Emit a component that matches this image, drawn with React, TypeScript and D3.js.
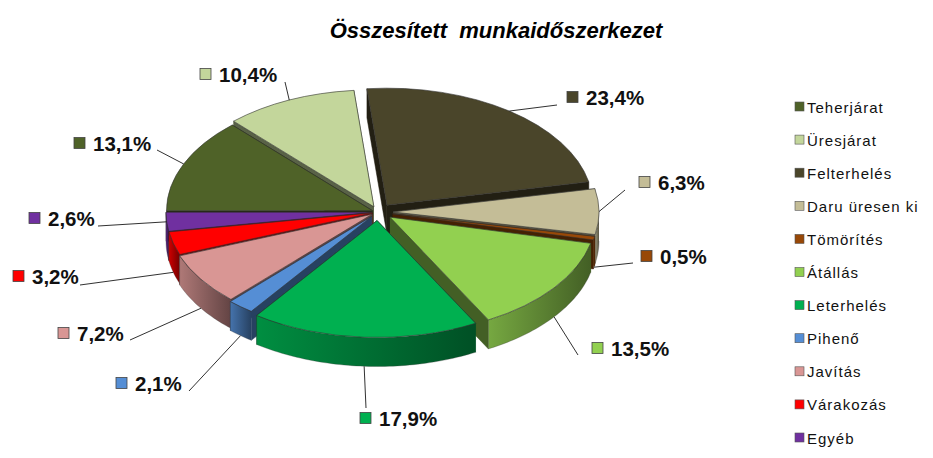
import { useEffect, useRef } from 'react';
import * as d3 from 'd3';

const width = 933;
const height = 458;

const categories = ['Teherjárat', 'Üresjárat', 'Felterhelés', 'Daru üresen ki', 'Tömörítés', 'Átállás', 'Leterhelés', 'Pihenő', 'Javítás', 'Várakozás', 'Egyéb'];
const shares = [13.1, 10.4, 23.4, 6.3, 0.5, 13.5, 17.9, 2.1, 7.2, 3.2, 2.6];
const colors = ['#4f6228', '#c3d69b', '#4a452a', '#c4bd97', '#984807', '#92d050', '#00b050', '#558ed5', '#d99694', '#ff0000', '#7030a0'];
const percentLabels = ['13,1%', '10,4%', '23,4%', '6,3%', '0,5%', '13,5%', '17,9%', '2,1%', '7,2%', '3,2%', '2,6%'];

// how far each slice is pulled out of the pie
const explode = [6, 10, 15, 15, 15, 15, 15, 10, 7, 6, 6];

// label text start / baseline, and the elbow of the leader line
const labelX = [93, 219, 586, 658, 660, 611, 379, 135, 77, 32, 48];
const labelY = [151, 82, 105, 190, 264, 356, 426, 391, 341, 284, 226];
const elbowX = [157, 285, 557, 625, 633, 578, 366, 189, 130, 80, 98];
const elbowY = [150, 82, 105, 190, 263, 355, 408, 391, 340, 285, 226];

const cx = 378;
const cy = 212;
const rx = 206;
const ry = 117;
const depth = 29;

const App = () => {
  const svgRef = useRef<SVGSVGElement>(null);

  useEffect(() => {
    const svg = d3.select(svgRef.current);
    svg.selectAll('*').remove();

    const slices = d3
      .pie<number>()
      .sort(null)
      .startAngle(-Math.PI / 2)
      .endAngle((3 * Math.PI) / 2)(shares);

    const arc = d3.arc<d3.PieArcDatum<number>>().innerRadius(0).outerRadius(rx);
    const line = d3.line();
    const defs = svg.append('defs');

    const centerOf = (i: number) => {
      const mid = (slices[i].startAngle + slices[i].endAngle) / 2;
      return [cx + Math.sin(mid) * explode[i], cy - (Math.cos(mid) * explode[i] * ry) / rx];
    };
    const rim = (i: number, a: number): [number, number] => {
      const [x, y] = centerOf(i);
      return [x + Math.sin(a) * rx, y - Math.cos(a) * ry];
    };

    // back slices first, so the nearer ones paint over them
    const drawOrder = d3.range(slices.length).sort(
      (a, b) =>
        Math.cos((slices[b].startAngle + slices[b].endAngle) / 2) -
        Math.cos((slices[a].startAngle + slices[a].endAngle) / 2)
    );

    drawOrder.forEach((i) => {
      const s = slices[i];
      const [x, y] = centerOf(i);
      const g = svg.append('g');
      const sideColor = d3.color(colors[i])!.darker(2.2).formatHex();

      // radial walls
      [s.startAngle, s.endAngle].forEach((a) => {
        const [ex, ey] = rim(i, a);
        g.append('path')
          .attr('d', line([[x, y], [ex, ey], [ex, ey + depth], [x, y + depth]]))
          .attr('fill', sideColor)
          .attr('stroke', sideColor)
          .attr('stroke-width', 0.5);
      });

      // outer wall, only the part that faces the viewer
      const from = Math.max(s.startAngle, Math.PI / 2);
      const to = Math.min(s.endAngle, (3 * Math.PI) / 2);
      const back = Math.cos((s.startAngle + s.endAngle) / 2) > -0.15 && s.endAngle < Math.PI / 2;
      if (to > from && !back) {
        const steps = d3.range(from, to, 0.02).concat(to);
        const topEdge = steps.map((a) => rim(i, a));
        const bottomEdge = topEdge.map(([px, py]): [number, number] => [px, py + depth]).reverse();
        const id = `wall-${i}`;
        const grad = defs.append('linearGradient').attr('id', id);
        const base = d3.color(colors[i])!;
        grad.append('stop').attr('offset', '0%').attr('stop-color', base.darker(0.6).formatHex());
        grad.append('stop').attr('offset', '100%').attr('stop-color', base.darker(2.2).formatHex());
        g.append('path')
          .attr('d', line([...topEdge, ...bottomEdge]))
          .attr('fill', `url(#${id})`)
          .attr('stroke', '#3a3a3a')
          .attr('stroke-width', 0.3);
      }

      // top face: a circular arc squashed into the ellipse
      g.append('path')
        .attr('d', arc(s))
        .attr('transform', `translate(${x},${y}) scale(1,${ry / rx})`)
        .attr('fill', colors[i])
        .attr('stroke', '#333')
        .attr('stroke-width', 0.6)
        .attr('vector-effect', 'non-scaling-stroke');
    });

    // labels and their leader lines
    slices.forEach((s, i) => {
      const mid = (s.startAngle + s.endAngle) / 2;
      const [ax, ay] = rim(i, mid);
      const anchorY = Math.cos(mid) < -0.15 ? ay + depth : ay;
      svg.append('path')
        .attr('d', line([[labelX[i] + percentLabels[i].length * 0 - 0, labelY[i]].length ? [elbowX[i], elbowY[i]] : [0, 0], [ax, anchorY]]))
        .attr('fill', 'none')
        .attr('stroke', '#1a1a1a')
        .attr('stroke-width', 0.9);
      svg.append('rect')
        .attr('x', labelX[i] - 19)
        .attr('y', labelY[i] - 13.5)
        .attr('width', 11)
        .attr('height', 11)
        .attr('fill', colors[i])
        .attr('stroke', '#444')
        .attr('stroke-width', 0.8);
      svg.append('text')
        .attr('x', labelX[i])
        .attr('y', labelY[i])
        .attr('font-family', '"Liberation Sans"')
        .attr('font-weight', 'bold')
        .attr('font-size', 20.5)
        .attr('fill', '#111')
        .text(percentLabels[i]);
    });

    // legend
    const legendY = d3.scalePoint<string>().domain(categories).range([107, 438]);
    categories.forEach((c, i) => {
      const y = legendY(c)!;
      svg.append('rect')
        .attr('x', 795)
        .attr('y', y - 5)
        .attr('width', 9)
        .attr('height', 9)
        .attr('fill', colors[i])
        .attr('stroke', '#555')
        .attr('stroke-width', 0.6);
      svg.append('text')
        .attr('x', 807)
        .attr('y', y + 5.5)
        .attr('font-family', '"Liberation Sans"')
        .attr('font-size', 15)
        .attr('letter-spacing', 1)
        .attr('fill', '#111')
        .text(c);
    });

    // title
    svg.append('text')
      .attr('x', 496)
      .attr('y', 38)
      .attr('text-anchor', 'middle')
      .attr('font-family', '"Liberation Sans"')
      .attr('font-weight', 'bold')
      .attr('font-style', 'italic')
      .attr('font-size', 22)
      .attr('fill', '#000')
      .style('white-space', 'pre')
      .text('Összesített  munkaidőszerkezet');
  }, []);

  return (
    <svg
      ref={svgRef}
      width={width}
      height={height}
      style={{ position: 'fixed', left: 0, top: 0, background: '#fff' }}
    />
  );
};

export default App;
